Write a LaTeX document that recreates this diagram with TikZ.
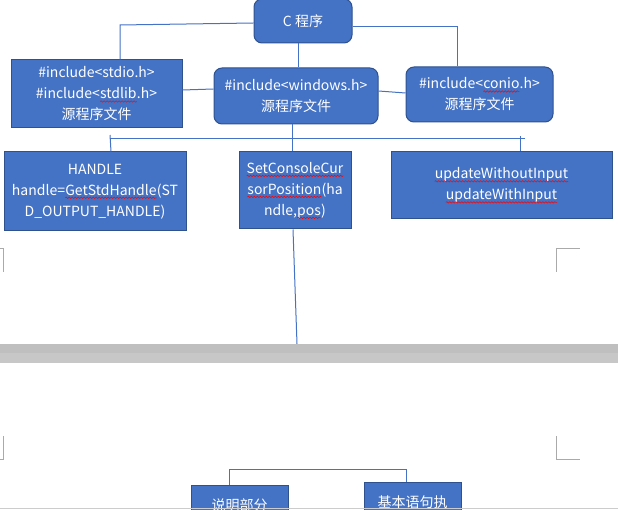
\documentclass[tikz,border=0pt]{standalone}
\usepackage{fontspec}
\setmainfont{Noto Sans CJK SC}
\usepackage{xcolor}
\usetikzlibrary{decorations.pathmorphing}
\definecolor{officeblue}{RGB}{68, 114, 196}
\definecolor{officeedge}{RGB}{47, 82, 143}
\definecolor{pagegray}{RGB}{170, 170, 170}
\definecolor{bandgray}{RGB}{191, 191, 191}
\definecolor{bandlight}{RGB}{199, 199, 199}

\tikzset{
    box/.style={draw=officeedge, fill=officeblue, text=white, line width=1pt,
        align=center, inner sep=0pt, font=\fontsize{14}{21}\selectfont},
    roundbox/.style={box, rounded corners=8pt},
    link/.style={draw=officeblue, line width=1pt},
    pagemark/.style={draw=pagegray, line width=0.8pt},
    plainword/.style={inner sep=0pt, outer sep=0pt, minimum width=0pt, minimum height=0pt,
        draw=none, fill=none, sharp corners, text=white}
}

% red spell-check squiggle under a word
\newcommand{\spellmark}[1]{\tikz[baseline=(w.base), x=1pt, y=1pt]{\node[plainword] (w) {#1};
    \draw[red, line width=0.5pt, sharp corners, decorate, decoration={snake, amplitude=0.7pt, segment length=3pt}]
    ([yshift=-2.5pt]w.base west) -- ([yshift=-2.5pt]w.base east);}}

\begin{document}
\begin{tikzpicture}[x=1pt, y=-1pt]
    \useasboundingbox (0,0) rectangle (618,510);
    \clip (0,0) rectangle (618,510);

    % Top level
    \node[roundbox, minimum width=98pt, minimum height=44pt] (prog) at (303,21) {C 程序};

    % Header files
    \node[box, minimum width=171pt, minimum height=68pt] (stdio) at (96.5,94)
        {\#include<stdio.h>\\\#include<\spellmark{stdlib}.h>\\源程序文件};
    \node[roundbox, minimum width=164pt, minimum height=56pt] (windows) at (296,96)
        {\#include<windows.h>\\源程序文件};
    \node[roundbox, minimum width=147pt, minimum height=55pt] (conio) at (479.5,94.5)
        {\#include<\spellmark{conio}.h>\\源程序文件};

    % Functions
    \node[box, minimum width=182pt, minimum height=79pt] (handle) at (95,191.5)
        {HANDLE\\handle=\spellmark{GetStdHandle}(ST\\D\_OUTPUT\_HANDLE)};
    \node[box, minimum width=112pt, minimum height=77pt] (setpos) at (295,190.5)
        {\spellmark{SetConsoleCur}\\\spellmark{sorPosition}(ha\\ndle,\spellmark{pos})};
    \node[box, minimum width=221pt, minimum height=67pt] (update) at (501.5,185.5)
        {\spellmark{updateWithoutInput}\\\spellmark{updateWithInput}};

    % Next page boxes
    \node[box, minimum width=97pt, minimum height=40pt] (shuoming) at (239.5,505) {说明部分};
    \node[box, minimum width=97pt, minimum height=40pt] (jiben) at (412.5,502) {基本语句执};

    % Connectors from the top box
    \coordinate (elbowL) at (120,25);
    \coordinate (elbowR) at (457,27);
    \draw[link] ([yshift=-2pt]prog.west) -- (elbowL) -- (elbowL |- stdio.north);
    \draw[link] (prog.east |- elbowR) -- (elbowR) -- (elbowR |- conio.north);
    \draw[link] ([xshift=2pt]windows.north) -- ([xshift=2pt]windows.north |- prog.south);

    % Links between header files
    \draw[link] ([yshift=4pt]stdio.east) -- ([yshift=7pt]windows.west);
    \draw[link] ([yshift=5pt]windows.east) -- ([yshift=1.5pt]conio.west);

    % Bar over the functions
    \coordinate (barL) at (110,139);
    \coordinate (barR) at (525,139);
    \coordinate (tickL) at (110,135);
    \coordinate (tickR) at (520,136);
    \draw[link] (barL) -- (barR);
    \draw[link] (tickL) -- ([xshift=1pt]tickL |- handle.north);
    \draw[link] (tickR) -- (tickR |- update.north);
    \draw[link] ([xshift=-4pt]windows.south) -- ([xshift=-3pt]setpos.north);

    % Line running down to the page break
    \coordinate (drop) at (297,344);
    \draw[link] ([xshift=-2pt]setpos.south) -- (drop);

    % Page corner marks
    \draw[pagemark] (0,248) -- (3,248) -- (3,272);
    \draw[pagemark] (580,248) -- (556,248) -- (556,272);
    \draw[pagemark] (3,436) -- (3,459) -- (0,459);
    \draw[pagemark] (556,436) -- (556,459) -- (580,459);

    % Page break band
    \fill[bandgray] (0,344) rectangle (618,353);
    \fill[bandlight] (0,353) rectangle (618,363);

    % Bracket on the next page
    \coordinate (brL) at (229,469);
    \coordinate (brR) at (406,469);
    \draw[link] (brL |- shuoming.north) -- (brL) -- (brR) -- (brR |- jiben.north);

    % Bottom edge
    \draw[draw=pagegray!60, line width=1.5pt] (0,508.5) -- (618,508.5);
\end{tikzpicture}
\end{document}
